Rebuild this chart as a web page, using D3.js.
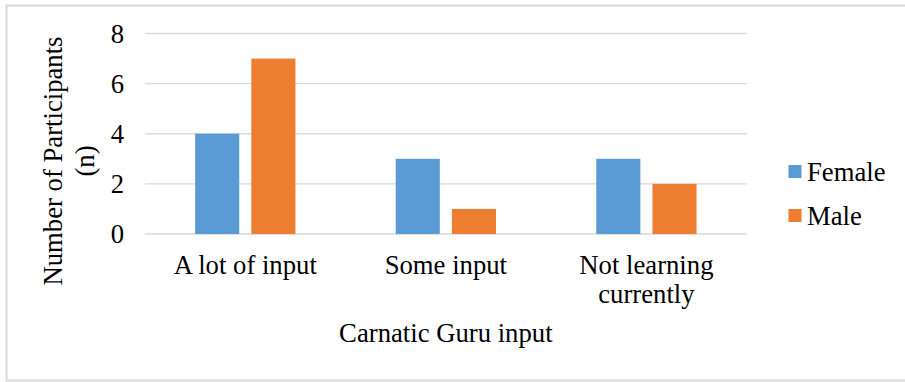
<!DOCTYPE html>
<html>
<head>
<meta charset="utf-8">
<script src="https://cdn.jsdelivr.net/npm/d3@7"></script>
</head>
<body style="margin:0">
<svg id="chart" width="905" height="382"></svg>
<script>
// Participants by gender and level of Carnatic guru input
const categories = [["A lot of input"], ["Some input"], ["Not learning", "currently"]];
const seriesNames = ["Female", "Male"];
const female = [4, 3, 3];
const male = [7, 1, 2];
const yTicks = [0, 2, 4, 6, 8];
const colors = ["#5B9BD5", "#ED7D31"];

const svg = d3.select("#chart");
const fontSize = 26.7;
const FONT = "'Liberation Serif'";

function styleText(sel) {
  return sel.style("font-family", FONT).attr("font-size", fontSize);
}

// outer frame
svg.append("rect")
  .attr("x", 6.5).attr("y", 5.5)
  .attr("width", 905).attr("height", 375)
  .attr("fill", "#fff")
  .attr("stroke", "#d9d9d9")
  .attr("stroke-width", 2);

const plot = { left: 145, right: 746.7, top: 33.5, bottom: 234 };

const catKeys = categories.map(c => c.join(" "));
const x0 = d3.scaleBand()
  .domain(catKeys)
  .range([plot.left, plot.right])
  .paddingInner(0.5)
  .paddingOuter(0.25);

const x1 = d3.scaleBand()
  .domain(seriesNames)
  .range([0, x0.bandwidth()])
  .paddingInner(0.215);

const y = d3.scaleLinear().domain([0, 8]).range([plot.bottom, plot.top]);

// gridlines
svg.append("g")
  .selectAll("line")
  .data(yTicks)
  .join("line")
  .attr("x1", plot.left).attr("x2", plot.right)
  .attr("y1", d => y(d)).attr("y2", d => y(d))
  .attr("stroke", "#d9d9d9")
  .attr("stroke-width", 1.3);

// y tick labels
const yAxis = d3.axisLeft(y).tickValues(yTicks).tickSize(0).tickPadding(0);
const yg = svg.append("g").attr("transform", "translate(124,0)").call(yAxis);
yg.attr("font-family", null).attr("font-size", null);
yg.select(".domain").remove();
styleText(yg.selectAll("text")).attr("dy", "0.33em");

// bars
const rows = catKeys.map((k, i) => ({ key: k, values: [female[i], male[i]] }));
const groups = svg.append("g")
  .selectAll("g")
  .data(rows)
  .join("g")
  .attr("transform", d => `translate(${x0(d.key)},0)`);

groups.selectAll("rect")
  .data(d => d.values.map((v, j) => ({ name: seriesNames[j], value: v, j })))
  .join("rect")
  .attr("x", d => x1(d.name))
  .attr("width", x1.bandwidth())
  .attr("y", d => y(d.value))
  .attr("height", d => y(0) - y(d.value))
  .attr("fill", d => colors[d.j]);

// category labels
categories.forEach((lines, i) => {
  const cx = x0(catKeys[i]) + x0.bandwidth() / 2;
  lines.forEach((ln, k) => {
    styleText(svg.append("text"))
      .attr("text-anchor", "middle")
      .attr("x", cx)
      .attr("y", 274 + k * 28.5)
      .text(ln);
  });
});

// axis titles
styleText(svg.append("text"))
  .attr("text-anchor", "middle")
  .attr("x", (plot.left + plot.right) / 2)
  .attr("y", 341.5)
  .text("Carnatic Guru input");

["Number of Participants", "(n)"].forEach((ln, k) => {
  styleText(svg.append("text"))
    .attr("text-anchor", "middle")
    .attr("transform", `translate(${62 + k * 32},161) rotate(-90)`)
    .text(ln);
});

// legend
seriesNames.forEach((name, i) => {
  const cy = 171.5 + i * 44;
  svg.append("rect")
    .attr("x", 788.5).attr("y", cy - 6.5)
    .attr("width", 13).attr("height", 13)
    .attr("fill", colors[i]);
  styleText(svg.append("text"))
    .attr("x", 807)
    .attr("y", cy + 9)
    .text(name);
});
</script>
</body>
</html>
